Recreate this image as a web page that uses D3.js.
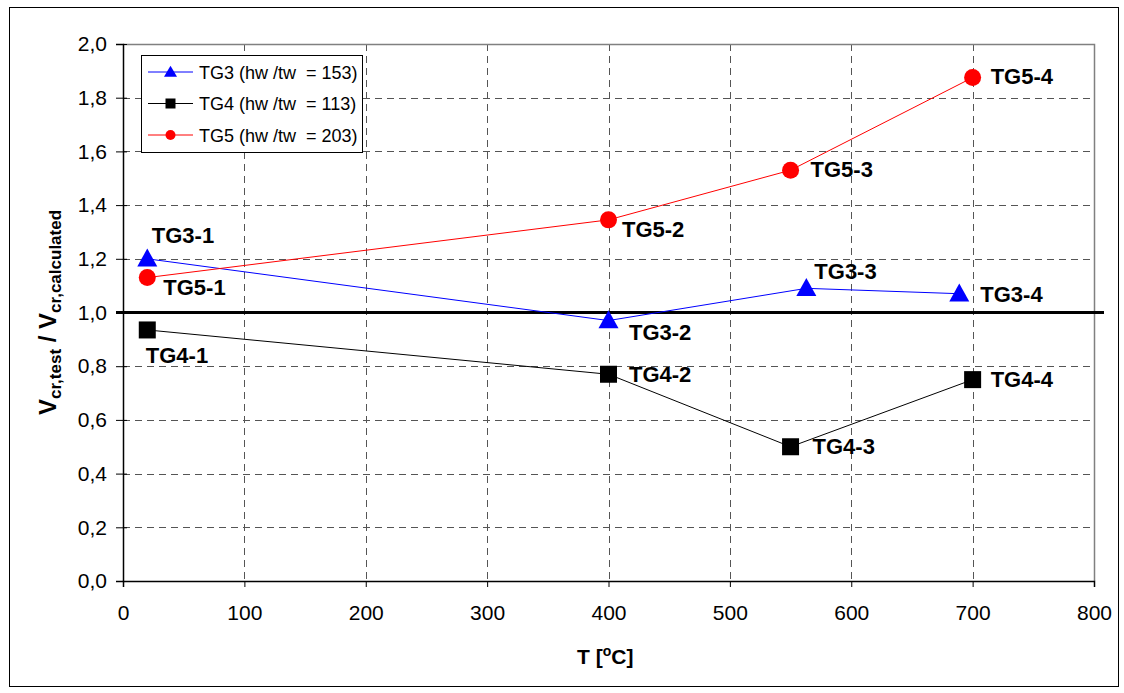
<!DOCTYPE html>
<html>
<head>
<meta charset="utf-8">
<script src="https://cdn.jsdelivr.net/npm/d3@7"></script>
<style>
  html, body { margin: 0; padding: 0; background: #fff; }
  svg { display: block; font-family: "Liberation Sans", Arial, sans-serif; }
  .pre { white-space: pre; }
</style>
</head>
<body>
<svg id="chart" width="1124" height="693"></svg>
<script>
// Temperatures [°C] and ratio V_cr,test / V_cr,calculated for each girder
const tg3Temps = [20, 400, 563, 689];
const tg3Ratio = [1.20, 0.97, 1.09, 1.07];
const tg3Names = ["TG3-1", "TG3-2", "TG3-3", "TG3-4"];

const tg4Temps = [20, 400, 550, 700];
const tg4Ratio = [0.935, 0.77, 0.50, 0.75];
const tg4Names = ["TG4-1", "TG4-2", "TG4-3", "TG4-4"];

const tg5Temps = [20, 400, 550, 700];
const tg5Ratio = [1.13, 1.345, 1.53, 1.875];
const tg5Names = ["TG5-1", "TG5-2", "TG5-3", "TG5-4"];

const legendLabels = ["TG3 (hw /tw  = 153)", "TG4 (hw /tw  = 113)", "TG5 (hw /tw  = 203)"];
const xTicks = [0, 100, 200, 300, 400, 500, 600, 700, 800];
const yTicks = [0, 0.2, 0.4, 0.6, 0.8, 1.0, 1.2, 1.4, 1.6, 1.8, 2.0];
const referenceRatio = 1.0;

// label placement relative to each point (dx, dy in px)
const tg3LabelOffsets = [[4.5, -16], [20.5, 19.5], [8, -9], [21, 8]];
const tg4LabelOffsets = [[-1.5, 33], [20.5, 7.5], [22, 7], [18, 7.5]];
const tg5LabelOffsets = [[16, 17.5], [13.5, 17.5], [20, 7], [18, 6.5]];

const series = [
  { temps: tg3Temps, vals: tg3Ratio, names: tg3Names, offs: tg3LabelOffsets, color: "#0000ff", marker: "triangle", legend: legendLabels[0] },
  { temps: tg4Temps, vals: tg4Ratio, names: tg4Names, offs: tg4LabelOffsets, color: "#000000", marker: "square", legend: legendLabels[1] },
  { temps: tg5Temps, vals: tg5Ratio, names: tg5Names, offs: tg5LabelOffsets, color: "#ff0000", marker: "circle", legend: legendLabels[2] }
];

const svg = d3.select("#chart");
const plot = { left: 123, right: 1094, top: 44, bottom: 581 };

const x = d3.scaleLinear().domain([0, 800]).range([plot.left, plot.right]);
const y = d3.scaleLinear().domain([0, 2]).range([plot.bottom, plot.top]);

// outer frame
svg.append("rect").attr("x", 9.5).attr("y", 7.5).attr("width", 1109).attr("height", 679)
  .attr("fill", "none").attr("stroke", "#000").attr("stroke-width", 1);

// grid
const grid = svg.append("g");
grid.selectAll(".gx").data(xTicks.slice(1, -1)).join("line")
  .attr("x1", d => Math.round(x(d)) + 0.5).attr("x2", d => Math.round(x(d)) + 0.5)
  .attr("y1", plot.top).attr("y2", plot.bottom)
  .attr("stroke", "#555").attr("stroke-dasharray", "7,5");
grid.selectAll(".gy").data(yTicks.slice(1, -1)).join("line")
  .attr("x1", plot.left).attr("x2", plot.right)
  .attr("y1", d => Math.round(y(d)) + 0.5).attr("y2", d => Math.round(y(d)) + 0.5)
  .attr("stroke", "#555").attr("stroke-dasharray", "7,5");

// plot frame (top/right in grey)
svg.append("path")
  .attr("d", `M${plot.left},${plot.top + 0.5}H${plot.right + 0.5}V${plot.bottom}`)
  .attr("fill", "none").attr("stroke", "#808080").attr("stroke-width", 1.5);

// axes
const fmt = d3.format(".1f");
const xAxis = d3.axisBottom(x).tickValues(xTicks).tickSize(6).tickPadding(18).tickFormat(d3.format("d"));
const yAxis = d3.axisLeft(y).tickValues(yTicks).tickSize(7).tickPadding(9).tickFormat(d => fmt(d).replace(".", ","));

const gx = svg.append("g").attr("transform", `translate(0,${plot.bottom})`).call(xAxis);
const gy = svg.append("g").attr("transform", `translate(${plot.left},0)`).call(yAxis);
[gx, gy].forEach(g => {
  g.select(".domain").attr("stroke", "#000").attr("stroke-width", 1.5);
  g.selectAll(".tick line").attr("stroke", "#000");
  g.selectAll("text").attr("font-size", 21).attr("fill", "#000")
    .attr("font-family", "'Liberation Sans', Arial, sans-serif");
});
gy.selectAll(".tick line").attr("x2", 4).attr("x1", -7);

// reference line at ratio 1.0
svg.append("line")
  .attr("x1", plot.left - 7).attr("x2", plot.right + 10)
  .attr("y1", y(referenceRatio)).attr("y2", y(referenceRatio))
  .attr("stroke", "#000").attr("stroke-width", 3);

// markers
function drawMarker(g, type, cx, cy, color, s) {
  if (type === "triangle") {
    const h = s * 0.95;
    g.append("path")
      .attr("d", `M${cx},${cy - h * 0.6}L${cx + s / 2 + 1},${cy + h * 0.45}L${cx - s / 2 - 1},${cy + h * 0.45}Z`)
      .attr("fill", color);
  } else if (type === "square") {
    g.append("rect").attr("x", cx - s / 2).attr("y", cy - s / 2).attr("width", s).attr("height", s).attr("fill", color);
  } else {
    g.append("circle").attr("cx", cx).attr("cy", cy).attr("r", s / 2).attr("fill", color);
  }
}

const line = d3.line().x(d => x(d[0])).y(d => y(d[1]));
const markerSize = { triangle: 18, square: 17, circle: 17 };

series.forEach(s => {
  const pts = s.temps.map((t, i) => [t, s.vals[i]]);
  svg.append("path").datum(pts).attr("d", line)
    .attr("fill", "none").attr("stroke", s.color).attr("stroke-width", 1);
  const mg = svg.append("g");
  pts.forEach(p => drawMarker(mg, s.marker, x(p[0]), y(p[1]), s.color, markerSize[s.marker]));
});

// point labels
series.forEach(s => {
  s.temps.forEach((t, i) => {
    svg.append("text")
      .attr("x", x(t) + s.offs[i][0]).attr("y", y(s.vals[i]) + s.offs[i][1])
      .attr("font-size", 22).attr("font-weight", "bold").attr("fill", "#000")
      .attr("font-family", "'Liberation Sans', Arial, sans-serif")
      .text(s.names[i]);
  });
});

// legend
const lg = svg.append("g");
lg.append("rect").attr("x", 141.5).attr("y", 55.5).attr("width", 221).attr("height", 97)
  .attr("fill", "#fff").attr("stroke", "#000").attr("stroke-width", 1);
series.forEach((s, i) => {
  const cy = 72 + i * 31.5;
  lg.append("line").attr("x1", 148).attr("x2", 193).attr("y1", cy).attr("y2", cy)
    .attr("stroke", s.color).attr("stroke-width", 1);
  drawMarker(lg, s.marker, 170.5, cy, s.color, s.marker === "triangle" ? 11 : 10);
  lg.append("text").attr("class", "pre").attr("x", 199).attr("y", cy + 6.5)
    .attr("font-size", 18).attr("fill", "#000")
    .attr("font-family", "'Liberation Sans', Arial, sans-serif")
    .text(s.legend);
});

// axis titles
const xt = svg.append("text").attr("x", 577).attr("y", 664)
  .attr("font-size", 21).attr("font-weight", "bold").attr("fill", "#000");
xt.append("tspan").text("T [");
xt.append("tspan").attr("font-size", 14).attr("dy", -8).text("o");
xt.append("tspan").attr("dy", 8).text("C]");

const yt = svg.append("text")
  .attr("transform", `translate(56,${y(referenceRatio)}) rotate(-90)`)
  .attr("text-anchor", "middle").attr("font-weight", "bold").attr("fill", "#000");
yt.append("tspan").attr("font-size", 24).text("V");
yt.append("tspan").attr("font-size", 17).attr("dy", 5).text("cr,test");
yt.append("tspan").attr("font-size", 24).attr("dy", -5).text(" / V");
yt.append("tspan").attr("font-size", 17).attr("dy", 5).text("cr,calculated");
</script>
</body>
</html>
